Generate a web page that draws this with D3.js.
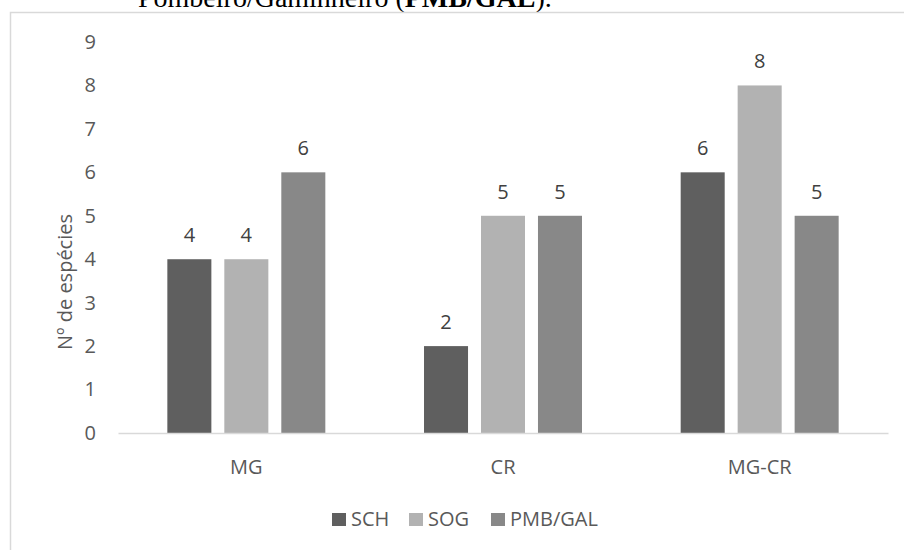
<!DOCTYPE html>
<html>
<head>
<meta charset="utf-8">
<script src="https://cdn.jsdelivr.net/npm/d3@7"></script>
<style>
  html, body { margin: 0; padding: 0; background: #fff; }
  svg { display: block; }
</style>
</head>
<body>
<svg id="chart" width="904" height="550"></svg>
<script>
// Number of species per habitat type and site
const categories = ["MG", "CR", "MG-CR"];
const seriesNames = ["SCH", "SOG", "PMB/GAL"];
const valuesSCH = [4, 2, 6];
const valuesSOG = [4, 5, 8];
const valuesPMB = [6, 5, 5];
const yTicks = [0, 1, 2, 3, 4, 5, 6, 7, 8, 9];
const colors = ["#5f5f5f", "#b2b2b2", "#888888"];

const series = [valuesSCH, valuesSOG, valuesPMB];

const svg = d3.select("#chart");
const textColor = "#595959";
const font = "'Open Sans', 'Noto Sans', sans-serif";
const fs = 20;

// Caption line above the chart frame (partially cut off at the top)
const cap = svg.append("text")
  .attr("x", 138).attr("y", 7)
  .attr("font-family", "'Liberation Serif', 'Times New Roman', serif")
  .attr("font-size", 28)
  .attr("fill", "#000");
cap.append("tspan").text("Pombeiro/Gaminheiro (");
cap.append("tspan").attr("font-weight", "bold").text("PMB/GAL");
cap.append("tspan").text(").");

// Chart frame
svg.append("rect")
  .attr("x", 10.5).attr("y", 12.5)
  .attr("width", 1000).attr("height", 1000)
  .attr("fill", "none")
  .attr("stroke", "#d9d9d9")
  .attr("stroke-width", 1.5);

const plot = { left: 118, right: 888, top: 42, bottom: 433 };

const x = d3.scaleBand()
  .domain(categories)
  .range([plot.left, plot.right]);

const barW = x.bandwidth() * 0.1715;
const step = x.bandwidth() * 0.222;

const xInner = d3.scaleOrdinal()
  .domain(seriesNames)
  .range([-1, 0, 1]);

const y = d3.scaleLinear()
  .domain([0, 9])
  .range([plot.bottom, plot.top]);

// Y axis tick labels
const yAxis = d3.axisLeft(y).tickValues(yTicks).tickSize(0).tickPadding(0);
const gy = svg.append("g")
  .attr("transform", `translate(96,0)`)
  .call(yAxis);
gy.select(".domain").remove();
gy.selectAll("text")
  .attr("font-family", font)
  .attr("font-size", fs)
  .attr("fill", textColor);

// Y axis title
svg.append("text")
  .attr("transform", `translate(72,282) rotate(-90)`)
  .attr("text-anchor", "middle")
  .attr("font-family", font)
  .attr("font-size", fs)
  .attr("fill", textColor)
  .text("Nº de espécies");

// Bars and value labels
seriesNames.forEach((name, si) => {
  const g = svg.append("g");
  const vals = series[si];
  g.selectAll("rect")
    .data(categories)
    .join("rect")
    .attr("x", (c) => x(c) + x.bandwidth() / 2 + xInner(name) * step - barW / 2)
    .attr("y", (c, i) => y(vals[i]))
    .attr("width", barW)
    .attr("height", (c, i) => y(0) - y(vals[i]))
    .attr("fill", colors[si]);
  g.selectAll("text")
    .data(categories)
    .join("text")
    .attr("x", (c) => x(c) + x.bandwidth() / 2 + xInner(name) * step)
    .attr("y", (c, i) => y(vals[i]) - 17)
    .attr("text-anchor", "middle")
    .attr("font-family", font)
    .attr("font-size", fs)
    .attr("fill", "#404040")
    .text((c, i) => vals[i]);
});

// X axis
const xAxis = d3.axisBottom(x).tickSize(0).tickPadding(0);
const gx = svg.append("g")
  .attr("transform", `translate(0,${plot.bottom})`)
  .call(xAxis);
gx.select(".domain")
  .attr("stroke", "#d9d9d9")
  .attr("stroke-width", 1.5);
gx.selectAll("text")
  .attr("dy", 0)
  .attr("y", 41)
  .attr("font-family", font)
  .attr("font-size", fs)
  .attr("fill", textColor);

// Legend
const legendItems = [
  { name: "SCH", sx: 332, color: colors[0] },
  { name: "SOG", sx: 409, color: colors[1] },
  { name: "PMB/GAL", sx: 491, color: colors[2] }
];
const lg = svg.append("g");
legendItems.forEach((d) => {
  lg.append("rect")
    .attr("x", d.sx).attr("y", 513)
    .attr("width", 14).attr("height", 13)
    .attr("fill", d.color);
  lg.append("text")
    .attr("x", d.sx + 19).attr("y", 526)
    .attr("font-family", font)
    .attr("font-size", fs)
    .attr("fill", textColor)
    .text(d.name);
});
</script>
</body>
</html>
